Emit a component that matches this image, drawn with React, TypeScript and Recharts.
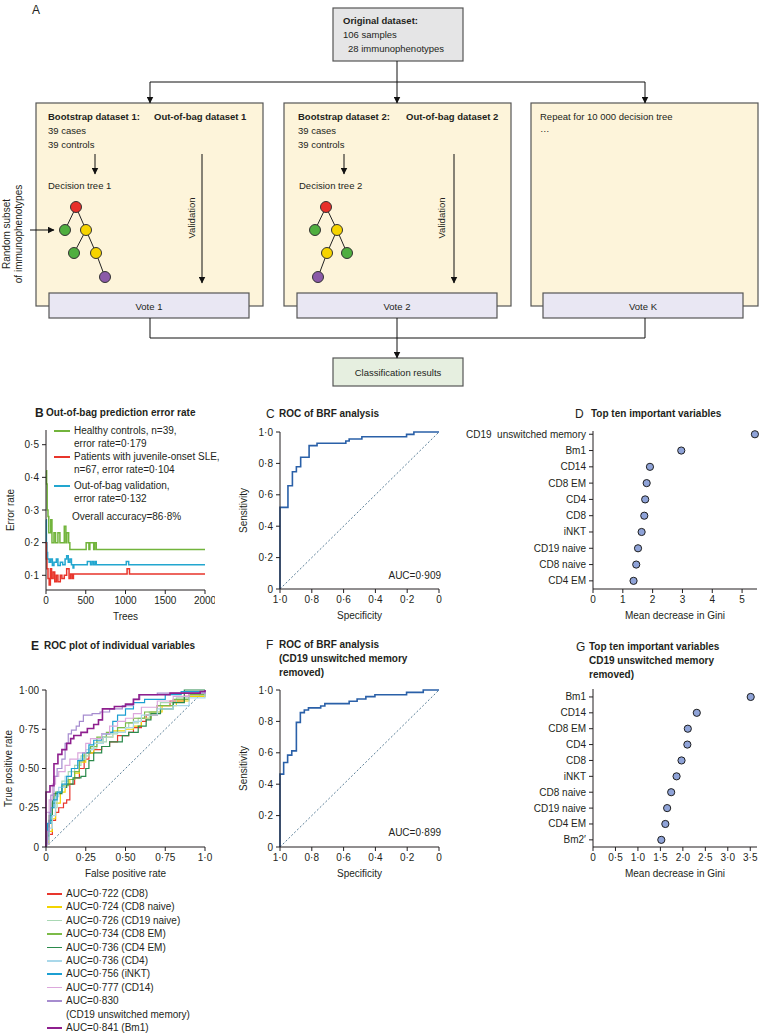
import React from 'react';
import { LineChart, Line, XAxis, YAxis, ScatterChart, Scatter, Label } from 'recharts';

const FONT = '"Liberation Sans", Arial, Helvetica, sans-serif';
const INK = '#231f20';

// B: out-of-bag prediction error rate, [trees, error rate]
const healthyErr = [[1, 0.42], [8, 0.38], [15, 0.3], [25, 0.28], [35, 0.23], [60, 0.27], [75, 0.2], [100, 0.23], [120, 0.2], [150, 0.23], [175, 0.2], [230, 0.25], [250, 0.2], [262, 0.23], [285, 0.2], [300, 0.179], [505, 0.2], [540, 0.179], [552, 0.2], [600, 0.179], [612, 0.2], [632, 0.179], [2000, 0.179]];
const sleErr = [[1, 0.2], [5, 0.15], [12, 0.12], [25, 0.09], [40, 0.07], [55, 0.12], [70, 0.09], [90, 0.11], [110, 0.08], [130, 0.1], [150, 0.08], [180, 0.1], [200, 0.09], [230, 0.1], [260, 0.12], [290, 0.09], [310, 0.104], [330, 0.09], [345, 0.104], [1020, 0.12], [1050, 0.104], [2000, 0.104]];
const oobErr = [[1, 0.27], [5, 0.2], [12, 0.17], [20, 0.15], [40, 0.14], [60, 0.15], [80, 0.13], [100, 0.14], [130, 0.15], [150, 0.13], [180, 0.14], [210, 0.132], [240, 0.15], [260, 0.16], [280, 0.14], [300, 0.15], [320, 0.132], [340, 0.122], [350, 0.132], [520, 0.142], [560, 0.132], [580, 0.142], [600, 0.132], [620, 0.142], [632, 0.132], [1010, 0.142], [1040, 0.132], [2000, 0.132]];
const bXTicks = [0, 500, 1000, 1500, 2000];
const bYTicks = [0.1, 0.2, 0.3, 0.4, 0.5];
const bYLabels = ['0·1', '0·2', '0·3', '0·4', '0·5'];

// C and F: ROC of BRF, [specificity, sensitivity]
const rocBrf = [[1, 0], [1, 0.52], [0.95, 0.658], [0.922, 0.747], [0.897, 0.779], [0.87, 0.839], [0.817, 0.913], [0.767, 0.928], [0.586, 0.943], [0.565, 0.955], [0.485, 0.97], [0.204, 0.985], [0.158, 1], [0, 1]];
const rocBrfNoCd19 = [[1, 0], [1, 0.464], [0.977, 0.538], [0.952, 0.585], [0.926, 0.612], [0.897, 0.794], [0.872, 0.856], [0.847, 0.873], [0.821, 0.886], [0.744, 0.898], [0.718, 0.913], [0.565, 0.928], [0.515, 0.943], [0.46, 0.958], [0.403, 0.97], [0.204, 0.985], [0.099, 1], [0, 1]];
const specTicks = [1, 0.8, 0.6, 0.4, 0.2, 0];
const specLabels = ['1·0', '0·8', '0·6', '0·4', '0·2', '0'];
const sensTicks = [0, 0.2, 0.4, 0.6, 0.8, 1];
const sensLabels = ['0', '0·2', '0·4', '0·6', '0·8', '1·0'];
const chanceSpec = [[1, 0], [0, 1]];

// D: top ten important variables (mean decrease in Gini)
const dNames = ['CD19  unswitched memory', 'Bm1', 'CD14', 'CD8 EM', 'CD4', 'CD8', 'iNKT', 'CD19 naive', 'CD8 naive', 'CD4 EM'];
const dGini = [5.43, 2.96, 1.91, 1.8, 1.75, 1.72, 1.63, 1.51, 1.45, 1.36];
const dXTicks = [0, 1, 2, 3, 4, 5];

// G: top ten with CD19 unswitched memory removed
const gNames = ['Bm1', 'CD14', 'CD8 EM', 'CD4', 'CD8', 'iNKT', 'CD8 naive', 'CD19 naive', 'CD4 EM', 'Bm2′'];
const gGini = [3.51, 2.31, 2.11, 2.1, 1.97, 1.86, 1.74, 1.65, 1.61, 1.52];
const gXTicks = [0, 0.5, 1, 1.5, 2, 2.5, 3, 3.5];
const gXLabels = ['0', '0·5', '1·0', '1·5', '2·0', '2·5', '3·0', '3·5'];

// E: ROC of individual variables, [false positive rate, true positive rate]
const rocCD8 = [[0, 0], [0, 0.02], [0.02, 0.08], [0.04, 0.17], [0.06, 0.22], [0.08, 0.25], [0.11, 0.28], [0.13, 0.3], [0.15, 0.4], [0.18, 0.44], [0.21, 0.5], [0.24, 0.56], [0.27, 0.6], [0.3, 0.62], [0.35, 0.64], [0.4, 0.67], [0.45, 0.71], [0.52, 0.73], [0.55, 0.76], [0.6, 0.8], [0.63, 0.84], [0.7, 0.9], [0.78, 0.93], [0.87, 0.96], [1, 1]];
const rocCD8naive = [[0, 0], [0, 0.03], [0.02, 0.1], [0.04, 0.18], [0.06, 0.28], [0.09, 0.35], [0.12, 0.4], [0.15, 0.43], [0.18, 0.47], [0.21, 0.54], [0.25, 0.6], [0.3, 0.66], [0.36, 0.7], [0.42, 0.74], [0.5, 0.75], [0.55, 0.77], [0.6, 0.82], [0.66, 0.86], [0.73, 0.9], [0.82, 0.93], [0.9, 0.96], [1, 1]];
const rocCD19naive = [[0, 0], [0, 0.05], [0.02, 0.15], [0.04, 0.25], [0.07, 0.35], [0.1, 0.42], [0.14, 0.48], [0.18, 0.52], [0.22, 0.58], [0.27, 0.63], [0.32, 0.67], [0.38, 0.72], [0.45, 0.76], [0.52, 0.79], [0.58, 0.82], [0.65, 0.86], [0.72, 0.92], [0.82, 0.95], [0.9, 0.97], [1, 1]];
const rocCD8EM = [[0, 0], [0, 0.1], [0.02, 0.2], [0.04, 0.28], [0.06, 0.35], [0.1, 0.39], [0.14, 0.43], [0.18, 0.48], [0.21, 0.55], [0.24, 0.6], [0.28, 0.64], [0.32, 0.7], [0.38, 0.73], [0.45, 0.76], [0.5, 0.79], [0.55, 0.82], [0.62, 0.86], [0.7, 0.9], [0.8, 0.94], [0.9, 0.97], [1, 1]];
const rocCD4EM = [[0, 0], [0, 0.07], [0.02, 0.17], [0.04, 0.3], [0.05, 0.34], [0.1, 0.38], [0.13, 0.4], [0.17, 0.44], [0.22, 0.45], [0.25, 0.5], [0.27, 0.55], [0.3, 0.6], [0.35, 0.64], [0.4, 0.67], [0.48, 0.71], [0.52, 0.73], [0.58, 0.77], [0.63, 0.81], [0.66, 0.85], [0.72, 0.88], [0.8, 0.92], [0.87, 1], [1, 1]];
const rocCD4 = [[0, 0], [0, 0.02], [0.02, 0.12], [0.04, 0.2], [0.06, 0.32], [0.08, 0.38], [0.12, 0.45], [0.16, 0.5], [0.2, 0.56], [0.25, 0.62], [0.3, 0.66], [0.36, 0.7], [0.42, 0.73], [0.5, 0.76], [0.55, 0.8], [0.6, 0.84], [0.7, 0.88], [0.8, 0.9], [0.9, 0.95], [1, 1]];
const rocINKT = [[0, 0], [0, 0.05], [0.01, 0.15], [0.03, 0.25], [0.05, 0.3], [0.07, 0.35], [0.1, 0.4], [0.13, 0.45], [0.16, 0.5], [0.2, 0.55], [0.23, 0.6], [0.27, 0.65], [0.3, 0.68], [0.35, 0.72], [0.4, 0.73], [0.42, 0.8], [0.45, 0.84], [0.5, 0.88], [0.55, 0.92], [0.62, 0.94], [0.75, 0.97], [0.85, 0.99], [1, 1]];
const rocCD14 = [[0, 0], [0, 0.22], [0.02, 0.3], [0.04, 0.4], [0.06, 0.45], [0.08, 0.48], [0.12, 0.52], [0.15, 0.56], [0.2, 0.6], [0.25, 0.66], [0.28, 0.69], [0.35, 0.72], [0.4, 0.77], [0.45, 0.8], [0.5, 0.82], [0.55, 0.85], [0.6, 0.89], [0.7, 0.93], [0.8, 0.96], [0.9, 0.98], [1, 1]];
const rocCD19unsw = [[0, 0], [0, 0.02], [0.01, 0.1], [0.02, 0.22], [0.03, 0.33], [0.05, 0.45], [0.07, 0.5], [0.1, 0.56], [0.12, 0.66], [0.14, 0.72], [0.16, 0.745], [0.19, 0.77], [0.21, 0.8], [0.235, 0.84], [0.29, 0.85], [0.34, 0.86], [0.4, 0.88], [0.48, 0.9], [0.55, 0.94], [0.59, 0.97], [0.7, 0.98], [1, 1]];
const rocBm1 = [[0, 0], [0, 0.35], [0.025, 0.39], [0.05, 0.53], [0.075, 0.59], [0.1, 0.62], [0.13, 0.66], [0.155, 0.69], [0.175, 0.71], [0.22, 0.73], [0.26, 0.755], [0.3, 0.78], [0.33, 0.81], [0.355, 0.88], [0.43, 0.895], [0.5, 0.91], [0.55, 0.94], [0.585, 0.97], [0.78, 0.98], [0.97, 0.99], [1, 1]];
const rocVars = ['CD8', 'CD8 naive', 'CD19 naive', 'CD8 EM', 'CD4 EM', 'CD4', 'iNKT', 'CD14', 'CD19 unswitched memory', 'Bm1'];
const rocAuc = ['0·722', '0·724', '0·726', '0·734', '0·736', '0·736', '0·756', '0·777', '0·830', '0·841'];
const rocColors = ['#e8362d', '#f3d400', '#a9d8b4', '#7cbb48', '#2b8a4c', '#a9d8ea', '#1c9fd2', '#dca8dc', '#a68ccf', '#8e1f8e'];
const rocCurves = [rocCD8, rocCD8naive, rocCD19naive, rocCD8EM, rocCD4EM, rocCD4, rocINKT, rocCD14, rocCD19unsw, rocBm1];
const eTicks = [0, 0.25, 0.5, 0.75, 1];
const eXLabels = ['0', '0·25', '0·50', '0·75', '1·0'];
const eYLabels = ['0', '0·25', '0·50', '0·75', '1·00'];
const chanceFpr = [[0, 0], [1, 1]];

const pts = (a: number[][]) => a.map(([x, y]) => ({ x, y }));
const lookup = (ticks: number[], labels: string[]) => (v: number) => labels[ticks.indexOf(v)] ?? String(v);

const tickStyle = { fontSize: 10, fill: INK, fontFamily: FONT };
const labelStyle = { fontSize: 10, fill: INK, fontFamily: FONT };
const axisProps = {
  stroke: INK,
  tick: tickStyle,
  tickSize: 4,
  tickMargin: 3,
  interval: 0 as const,
};

function Txt({ x, y, children, bold = false, size = 10, right = false }: any) {
  return (
    <div
      style={{
        position: 'absolute',
        left: x,
        top: y - size * 0.6,
        fontSize: size,
        lineHeight: `${size * 1.2}px`,
        fontWeight: bold ? 700 : 400,
        whiteSpace: 'nowrap',
        transform: right ? 'translateX(-100%)' : undefined,
      }}
    >
      {children}
    </div>
  );
}

function Node({ x, y, c }: { x: number; y: number; c: string }) {
  return <circle cx={x} cy={y} r={5.5} fill={c} stroke="#333" strokeWidth={1} />;
}

function Tree({ nodes, edges }: { nodes: [number, number, string][]; edges: [number, number][] }) {
  return (
    <g>
      {edges.map(([a, b], i) => (
        <line key={i} x1={nodes[a][0]} y1={nodes[a][1]} x2={nodes[b][0]} y2={nodes[b][1]} stroke="#222" strokeWidth={1} />
      ))}
      {nodes.map(([x, y, c], i) => <Node key={i} x={x} y={y} c={c} />)}
    </g>
  );
}

const RED = '#e8302a', GREEN = '#4fae3f', YEL = '#f6d400', PURP = '#8b5aa8';

function Flow() {
  const arrow = { stroke: '#111', strokeWidth: 1, markerEnd: 'url(#ah)' };
  const plain = { stroke: '#111', strokeWidth: 1 };
  const boxStroke = { stroke: '#555', strokeWidth: 1.2 };
  return (
    <svg width={759} height={392} style={{ position: 'absolute', left: 0, top: 0 }} fontFamily={FONT} fontSize={9.5}>
      <defs>
        <marker id="ah" markerWidth="7" markerHeight="7" refX="6.5" refY="3.5" orient="auto" markerUnits="userSpaceOnUse">
          <path d="M0,0 L7,3.5 L0,7 z" fill="#111" />
        </marker>
      </defs>
      <text x={32} y={10} fontSize={12} fill={INK} dominantBaseline="central">A</text>

      <rect x={333} y={8} width={130} height={53} fill="#e5e5e6" {...boxStroke} />
      <text x={343} y={20} fontWeight={700} fill={INK} dominantBaseline="central">Original dataset:</text>
      <text x={343} y={34} fill={INK} dominantBaseline="central">106 samples</text>
      <text x={348} y={48} fill={INK} dominantBaseline="central">28 immunophenotypes</text>

      <line x1={397} y1={61} x2={397} y2={82} {...plain} />
      <line x1={150} y1={82} x2={645} y2={82} {...plain} />

      {[36, 284, 531].map((x) => (
        <rect key={x} x={x} y={103} width={227} height={203} fill="#fdf4da" {...boxStroke} />
      ))}
      <line x1={150} y1={82} x2={150} y2={103} {...arrow} />
      <line x1={397} y1={82} x2={397} y2={103} {...arrow} />
      <line x1={645} y1={82} x2={645} y2={103} {...arrow} />

      <text x={48} y={116} fontWeight={700} fill={INK} dominantBaseline="central">Bootstrap dataset 1:</text>
      <text x={154} y={116} fontWeight={700} fill={INK} dominantBaseline="central">Out-of-bag dataset 1</text>
      <text x={48} y={130} fill={INK} dominantBaseline="central">39 cases</text>
      <text x={48} y={144} fill={INK} dominantBaseline="central">39 controls</text>
      <line x1={95} y1={154} x2={95} y2={174} {...arrow} />
      <text x={48} y={185} fill={INK} dominantBaseline="central">Decision tree 1</text>
      <line x1={202} y1={154} x2={202} y2={283} {...arrow} />
      <text x={191} y={218} fill={INK} textAnchor="middle" dominantBaseline="central" transform="rotate(-90 191 218)">Validation</text>
      <Tree
        nodes={[[76, 207, RED], [65, 230, GREEN], [86, 230, YEL], [74, 253, GREEN], [96, 253, YEL], [105, 277, PURP]]}
        edges={[[0, 1], [0, 2], [2, 3], [2, 4], [4, 5]]}
      />

      <text x={298} y={116} fontWeight={700} fill={INK} dominantBaseline="central">Bootstrap dataset 2:</text>
      <text x={406} y={116} fontWeight={700} fill={INK} dominantBaseline="central">Out-of-bag dataset 2</text>
      <text x={298} y={130} fill={INK} dominantBaseline="central">39 cases</text>
      <text x={298} y={144} fill={INK} dominantBaseline="central">39 controls</text>
      <line x1={344} y1={154} x2={344} y2={174} {...arrow} />
      <text x={299} y={185} fill={INK} dominantBaseline="central">Decision tree 2</text>
      <line x1={454} y1={154} x2={454} y2={283} {...arrow} />
      <text x={441} y={218} fill={INK} textAnchor="middle" dominantBaseline="central" transform="rotate(-90 441 218)">Validation</text>
      <Tree
        nodes={[[326, 207, RED], [315, 230, GREEN], [337, 230, YEL], [327, 253, YEL], [347, 253, GREEN], [318, 277, PURP]]}
        edges={[[0, 1], [0, 2], [2, 3], [2, 4], [3, 5]]}
      />

      <text x={540} y={116} fill={INK} dominantBaseline="central">Repeat for 10 000 decision tree</text>
      <text x={540} y={128} fill={INK} dominantBaseline="central">…</text>

      <text x={6} y={234} fill={INK} fontSize={10} textAnchor="middle" dominantBaseline="central" transform="rotate(-90 6 234)">Random subset</text>
      <text x={18} y={234} fill={INK} fontSize={10} textAnchor="middle" dominantBaseline="central" transform="rotate(-90 18 234)">of immunophenotypes</text>
      <line x1={30} y1={230} x2={54} y2={230} {...arrow} />

      {[[49, 'Vote 1'], [297, 'Vote 2'], [543, 'Vote K']].map(([x, t]) => (
        <g key={t as string}>
          <rect x={x as number} y={293} width={200} height={25} fill="#e9e7f3" {...boxStroke} />
          <text x={(x as number) + 100} y={306} fill={INK} textAnchor="middle" dominantBaseline="central">{t}</text>
        </g>
      ))}
      <line x1={150} y1={318} x2={150} y2={338} {...plain} />
      <line x1={397} y1={318} x2={397} y2={338} {...plain} />
      <line x1={645} y1={318} x2={645} y2={338} {...plain} />
      <line x1={150} y1={338} x2={645} y2={338} {...plain} />
      <rect x={333} y={358} width={130} height={28} fill="#e6efe0" {...boxStroke} />
      <line x1={397} y1={338} x2={397} y2={358} {...arrow} />
      <text x={398} y={372} fill={INK} textAnchor="middle" dominantBaseline="central">Classification results</text>
    </svg>
  );
}

function PanelB() {
  const series: [number[][], string][] = [[healthyErr, '#72b43c'], [oobErr, '#22a6cf'], [sleErr, '#e8352b']];
  return (
    <>
      <Txt x={35} y={413} size={12} bold>B</Txt>
      <Txt x={46} y={413} bold>Out-of-bag prediction error rate</Txt>
      <div style={{ position: 'absolute', left: 0, top: 420 }}>
        <LineChart width={215} height={206} margin={{ top: 10, right: 10, bottom: 6, left: 0 }}>
          <XAxis type="number" dataKey="x" domain={[0, 2000]} ticks={bXTicks} height={30} {...axisProps}>
            <Label value="Trees" position="insideBottom" offset={0} style={labelStyle} />
          </XAxis>
          <YAxis type="number" dataKey="y" domain={[0.055, 0.545]} ticks={bYTicks} tickFormatter={lookup(bYTicks, bYLabels)} width={46} {...axisProps}>
            <Label value="Error rate" angle={-90} position="insideLeft" offset={10} style={{ ...labelStyle, textAnchor: 'middle' }} />
          </YAxis>
          {series.map(([d, c], i) => (
            <Line key={i} data={pts(d)} dataKey="y" type="stepAfter" stroke={c} strokeWidth={1.5} dot={false} activeDot={false} isAnimationActive={false} />
          ))}
        </LineChart>
      </div>
      {[['#72b43c', 431, 'Healthy controls, n=39,', 'error rate=0·179'], ['#e8352b', 457, 'Patients with juvenile-onset SLE,', 'n=67, error rate=0·104'], ['#22a6cf', 486, 'Out-of-bag validation,', 'error rate=0·132']].map(([c, y, a, b]) => (
        <React.Fragment key={a as string}>
          <div style={{ position: 'absolute', left: 54, top: (y as number) - 1, width: 16, height: 1.5, background: c as string }} />
          <Txt x={74} y={y}>{a}</Txt>
          <Txt x={74} y={(y as number) + 13}>{b}</Txt>
        </React.Fragment>
      ))}
      <Txt x={72} y={517}>Overall accuracy=86·8%</Txt>
    </>
  );
}

function RocBrf({ top, data }: { top: number; data: number[][] }) {
  return (
    <div style={{ position: 'absolute', left: 225, top }}>
      <LineChart width={224} height={203} margin={{ top: 10, right: 10, bottom: 6, left: 0 }}>
        <XAxis type="number" dataKey="x" domain={[0, 1]} reversed ticks={specTicks} tickFormatter={lookup(specTicks, specLabels)} height={30} {...axisProps}>
          <Label value="Specificity" position="insideBottom" offset={0} style={labelStyle} />
        </XAxis>
        <YAxis type="number" dataKey="y" domain={[0, 1]} ticks={sensTicks} tickFormatter={lookup(sensTicks, sensLabels)} width={55} {...axisProps}>
          <Label value="Sensitivity" angle={-90} position="insideLeft" offset={18} style={{ ...labelStyle, textAnchor: 'middle' }} />
        </YAxis>
        <Line data={pts(chanceSpec)} dataKey="y" type="linear" stroke="#587d96" strokeWidth={1} strokeDasharray="2 2" dot={false} activeDot={false} isAnimationActive={false} />
        <Line data={pts(data)} dataKey="y" type="stepAfter" stroke="#2a60a8" strokeWidth={1.6} dot={false} activeDot={false} isAnimationActive={false} />
      </LineChart>
    </div>
  );
}

function Importance({ top, names, gini, domain, ticks, labels, yDomain }: any) {
  const data = names.map((n: string, i: number) => ({ rank: i, gini: gini[i] }));
  const ranks = names.map((_: string, i: number) => i);
  const nameTick = (p: any) => (
    <text x={p.x} y={p.y} textAnchor="end" dominantBaseline="central" fontSize={10} fontFamily={FONT} fill={INK} style={{ whiteSpace: 'pre' }}>
      {names[p.payload.value]}
    </text>
  );
  const dotShape = (p: any) => <circle cx={p.cx} cy={p.cy} r={3.6} fill="#8fa3d8" stroke="#1f1f1f" strokeWidth={1} />;
  return (
    <div style={{ position: 'absolute', left: 460, top }}>
      <ScatterChart width={299} height={204} margin={{ top: 10, right: 2, bottom: 6, left: 0 }}>
        <XAxis type="number" dataKey="gini" domain={domain} ticks={ticks} tickFormatter={lookup(ticks, labels)} height={30} {...axisProps}>
          <Label value="Mean decrease in Gini" position="insideBottom" offset={0} style={labelStyle} />
        </XAxis>
        <YAxis type="number" dataKey="rank" domain={yDomain} reversed ticks={ranks} width={133} {...axisProps} tick={nameTick} />
        <Scatter data={data} shape={dotShape} isAnimationActive={false} />
      </ScatterChart>
    </div>
  );
}

function PanelE() {
  return (
    <>
      <Txt x={31} y={646} size={12} bold>E</Txt>
      <Txt x={44} y={646} bold>ROC plot of individual variables</Txt>
      <div style={{ position: 'absolute', left: 0, top: 680 }}>
        <LineChart width={215} height={203} margin={{ top: 10, right: 10, bottom: 6, left: 0 }}>
          <XAxis type="number" dataKey="x" domain={[0, 1]} ticks={eTicks} tickFormatter={lookup(eTicks, eXLabels)} height={30} {...axisProps}>
            <Label value="False positive rate" position="insideBottom" offset={0} style={labelStyle} />
          </XAxis>
          <YAxis type="number" dataKey="y" domain={[0, 1]} ticks={eTicks} tickFormatter={lookup(eTicks, eYLabels)} width={46} {...axisProps}>
            <Label value="True positive rate" angle={-90} position="insideLeft" offset={8} style={{ ...labelStyle, textAnchor: 'middle' }} />
          </YAxis>
          <Line data={pts(chanceFpr)} dataKey="y" type="linear" stroke="#587d96" strokeWidth={1} strokeDasharray="2 2" dot={false} activeDot={false} isAnimationActive={false} />
          {rocCurves.map((d, i) => (
            <Line key={rocVars[i]} data={pts(d)} dataKey="y" type="stepAfter" stroke={rocColors[i]} strokeWidth={i === 9 ? 1.6 : 1.2} dot={false} activeDot={false} isAnimationActive={false} />
          ))}
        </LineChart>
      </div>
      {rocVars.map((v, i) => {
        const y = 894 + i * 13.4 + (i === 9 ? 13.4 : 0);
        const long = i === 8;
        return (
          <React.Fragment key={v}>
            <div style={{ position: 'absolute', left: 47, top: y - 1, width: 15, height: 1.6, background: rocColors[i] }} />
            <Txt x={66} y={y}>{long ? `AUC=${rocAuc[i]}` : `AUC=${rocAuc[i]} (${v})`}</Txt>
            {long && <Txt x={66} y={y + 13.4}>({v})</Txt>}
          </React.Fragment>
        );
      })}
    </>
  );
}

export default function App() {
  return (
    <div style={{ position: 'absolute', left: 0, top: 0, width: 759, height: 1034, background: '#fff', fontFamily: FONT, color: INK, overflow: 'hidden' }}>
      <Flow />
      <PanelB />

      <Txt x={266} y={414} size={12}>C</Txt>
      <Txt x={279} y={414} bold>ROC of BRF analysis</Txt>
      <RocBrf top={422} data={rocBrf} />
      <Txt x={441} y={576} right>AUC=0·909</Txt>

      <Txt x={575} y={414} size={12}>D</Txt>
      <Txt x={591} y={414} bold>Top ten important variables</Txt>
      <Importance top={421} names={dNames} gini={dGini} domain={[0, 5.5]} ticks={dXTicks} labels={dXTicks.map(String)} yDomain={[-0.2, 9.5]} />

      <PanelE />

      <Txt x={266} y={645} size={12}>F</Txt>
      <Txt x={279} y={645} bold>ROC of BRF analysis</Txt>
      <Txt x={279} y={659} bold>(CD19 unswitched memory</Txt>
      <Txt x={279} y={673} bold>removed)</Txt>
      <RocBrf top={680} data={rocBrfNoCd19} />
      <Txt x={441} y={833} right>AUC=0·899</Txt>

      <Txt x={576} y={647} size={12}>G</Txt>
      <Txt x={589} y={647} bold>Top ten important variables</Txt>
      <Txt x={589} y={661} bold>CD19 unswitched memory</Txt>
      <Txt x={589} y={675} bold>removed)</Txt>
      <Importance top={679} names={gNames} gini={gGini} domain={[0, 3.65]} ticks={gXTicks} labels={gXLabels} yDomain={[-0.5, 9.45]} />
    </div>
  );
}
